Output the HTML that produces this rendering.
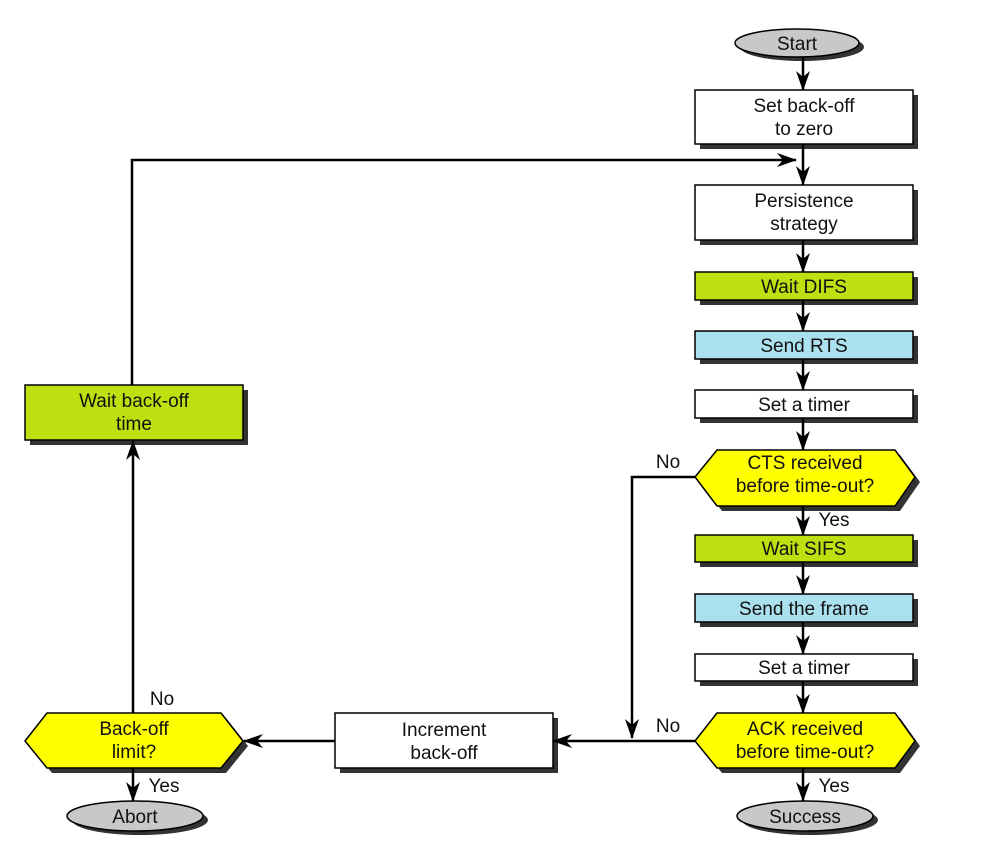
<!DOCTYPE html>
<html><head><meta charset="utf-8"><style>
html,body{margin:0;padding:0;background:#fff;}
svg{display:block;}
text{font-family:"Liberation Sans",sans-serif;font-size:19px;fill:#111;text-anchor:middle;}
</style></head><body>
<svg width="984" height="846" viewBox="0 0 984 846" xmlns="http://www.w3.org/2000/svg">
<defs>
<marker id="a" viewBox="0 0 20 14" refX="19" refY="7" markerWidth="20" markerHeight="14" markerUnits="userSpaceOnUse" orient="auto">
<path d="M0,0 L20,7 L0,14 L6,7 Z" fill="#000"/></marker>
</defs>
<g fill="#333">
<ellipse cx="802" cy="47" rx="62" ry="14"/>
<rect x="700" y="95" width="218" height="54"/>
<rect x="700" y="190" width="218" height="55"/>
<rect x="700" y="277" width="218" height="28"/>
<rect x="700" y="336" width="218" height="28"/>
<rect x="700" y="395" width="218" height="28"/>
<polygon points="700,482 722,455 900,455 920,482 900,511 722,511"/>
<rect x="700" y="540" width="218" height="27"/>
<rect x="700" y="599" width="218" height="28"/>
<rect x="700" y="659" width="218" height="27"/>
<polygon points="700,746 722,718 900,718 920,746 900,773 722,773"/>
<ellipse cx="810" cy="820" rx="68" ry="15"/>
<rect x="340" y="718" width="218" height="55"/>
<polygon points="30,746 52,718 226,718 248,746 226,773 52,773"/>
<ellipse cx="140" cy="820" rx="68" ry="15"/>
<rect x="30" y="390" width="218" height="55"/>
</g>
<g stroke="#000" stroke-width="1.5">
<ellipse cx="797" cy="43" rx="62" ry="14" fill="#c8c8c8"/>
<rect x="695" y="90" width="218" height="54" fill="#fff"/>
<rect x="695" y="185" width="218" height="55" fill="#fff"/>
<rect x="695" y="272" width="218" height="28" fill="#bde010"/>
<rect x="695" y="331" width="218" height="28" fill="#abe0ee"/>
<rect x="695" y="390" width="218" height="28" fill="#fff"/>
<polygon points="695,477 717,450 895,450 915,477 895,506 717,506" fill="#ffff00"/>
<rect x="695" y="535" width="218" height="27" fill="#bde010"/>
<rect x="695" y="594" width="218" height="28" fill="#abe0ee"/>
<rect x="695" y="654" width="218" height="27" fill="#fff"/>
<polygon points="695,741 717,713 895,713 915,741 895,768 717,768" fill="#ffff00"/>
<ellipse cx="805" cy="816" rx="68" ry="15" fill="#c8c8c8"/>
<rect x="335" y="713" width="218" height="55" fill="#fff"/>
<polygon points="25,741 47,713 221,713 243,741 221,768 47,768" fill="#ffff00"/>
<ellipse cx="135" cy="816" rx="68" ry="15" fill="#c8c8c8"/>
<rect x="25" y="385" width="218" height="55" fill="#bde010"/>
</g>
<g stroke="#000" stroke-width="2.5" fill="none">
<line x1="803" y1="57" x2="803" y2="90" marker-end="url(#a)"/>
<line x1="803" y1="144" x2="803" y2="185" marker-end="url(#a)"/>
<polyline points="132,385 132,160 796,160" marker-end="url(#a)"/>
<line x1="803" y1="240" x2="803" y2="272" marker-end="url(#a)"/>
<line x1="803" y1="300" x2="803" y2="331" marker-end="url(#a)"/>
<line x1="803" y1="359" x2="803" y2="390" marker-end="url(#a)"/>
<line x1="803" y1="418" x2="803" y2="450" marker-end="url(#a)"/>
<line x1="803" y1="506" x2="803" y2="535" marker-end="url(#a)"/>
<line x1="803" y1="562" x2="803" y2="594" marker-end="url(#a)"/>
<line x1="803" y1="622" x2="803" y2="654" marker-end="url(#a)"/>
<line x1="803" y1="681" x2="803" y2="713" marker-end="url(#a)"/>
<line x1="803" y1="768" x2="803" y2="801" marker-end="url(#a)"/>
<polyline points="695,477 632,477 632,738" marker-end="url(#a)"/>
<line x1="695" y1="741" x2="553" y2="741" marker-end="url(#a)"/>
<line x1="335" y1="741" x2="244" y2="741" marker-end="url(#a)"/>
<line x1="133" y1="713" x2="133" y2="441" marker-end="url(#a)"/>
<line x1="133" y1="768" x2="133" y2="801" marker-end="url(#a)"/>
</g>
<text x="797" y="50">Start</text>
<text x="804" y="112">Set back-off</text>
<text x="804" y="135">to zero</text>
<text x="804" y="207">Persistence</text>
<text x="804" y="230">strategy</text>
<text x="804" y="293">Wait DIFS</text>
<text x="804" y="352">Send RTS</text>
<text x="804" y="411">Set a timer</text>
<text x="805" y="469">CTS received</text>
<text x="805" y="492">before time-out?</text>
<text x="804" y="555">Wait SIFS</text>
<text x="804" y="615">Send the frame</text>
<text x="804" y="674">Set a timer</text>
<text x="805" y="735">ACK received</text>
<text x="805" y="758">before time-out?</text>
<text x="805" y="823">Success</text>
<text x="444" y="736">Increment</text>
<text x="444" y="759">back-off</text>
<text x="134" y="735">Back-off</text>
<text x="134" y="758">limit?</text>
<text x="135" y="823">Abort</text>
<text x="134" y="407">Wait back-off</text>
<text x="134" y="430">time</text>
<text x="668" y="468">No</text>
<text x="834" y="526">Yes</text>
<text x="668" y="732">No</text>
<text x="834" y="792">Yes</text>
<text x="162" y="705">No</text>
<text x="164" y="792">Yes</text>
</svg>
</body></html>
